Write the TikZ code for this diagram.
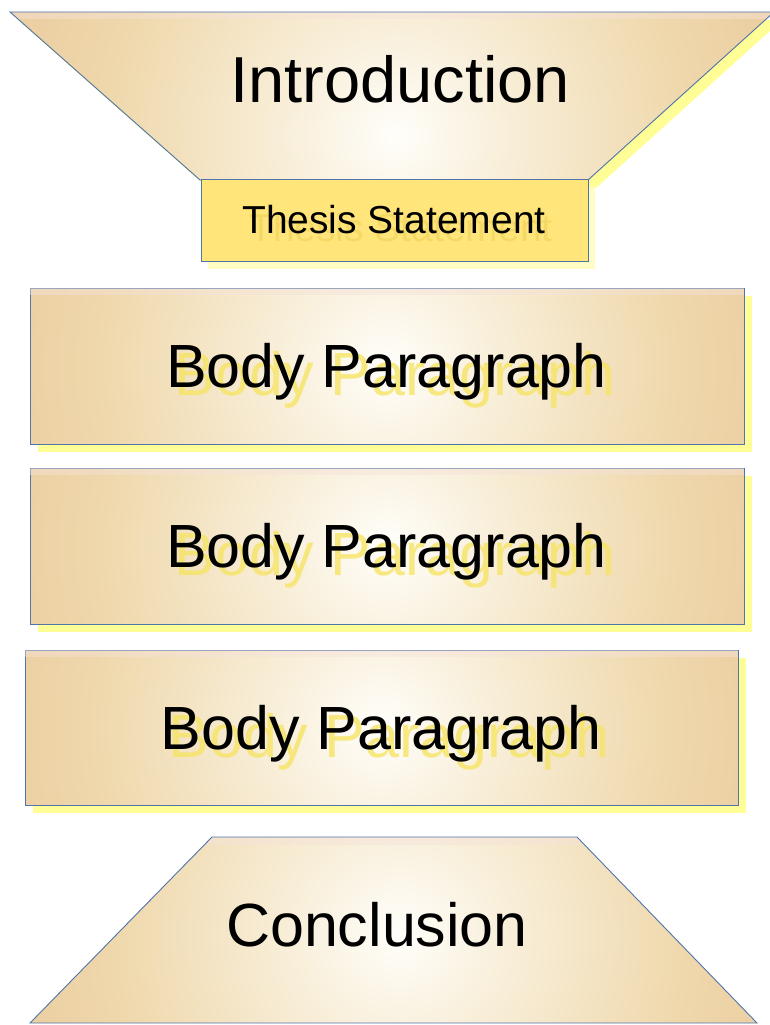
\documentclass[tikz,border=0pt]{standalone}
\usepackage{fontspec}
\setmainfont{Liberation Sans}
\usetikzlibrary{shadows}

\definecolor{edgeblue}{RGB}{79,116,170}
\definecolor{paperwhite}{RGB}{255,254,250}
\definecolor{parchlight}{RGB}{248,238,216}
\definecolor{parchmid}{RGB}{239,216,172}
\definecolor{parchdeep}{RGB}{232,197,151}
\definecolor{parchedge}{RGB}{225,183,137}
\definecolor{parchcorner}{RGB}{221,174,135}
\definecolor{thesisgold}{RGB}{255,229,122}
\definecolor{glow}{RGB}{255,253,150}
\definecolor{paleglow}{RGB}{255,252,196}
\definecolor{ghostyellow}{RGB}{246,228,100}
\definecolor{ghostgold}{RGB}{240,214,92}
\definecolor{gloss}{RGB}{245,226,218}

\pgfdeclareradialshading{parchment}{\pgfpoint{0bp}{0bp}}{%
  color(0bp)=(paperwhite); color(4bp)=(parchlight); color(10bp)=(parchmid);
  color(17bp)=(parchdeep); color(25bp)=(parchedge); color(50bp)=(parchcorner)}

\begin{document}
\begin{tikzpicture}[x=1pt,y=-1pt,
  outline/.style={draw=edgeblue,line width=0.9pt},
  parchment fill/.style={path picture={\shade[shading=parchment] (#1) circle (714pt);}},
  body box/.style={outline,parchment fill=path picture bounding box.center,
    minimum width=714pt,minimum height=156pt,inner sep=0pt,
    drop shadow={shadow xshift=8pt,shadow yshift=-8pt,fill=glow,opacity=1}},
  big text/.style={font=\fontsize{61pt}{70pt}\selectfont,anchor=base,inner sep=0pt},
  ghost/.style={text=ghostyellow,text opacity=.8}]

  \useasboundingbox (0,0) rectangle (770,1025);

  % introduction funnel
  \coordinate (i1) at (10,12);
  \coordinate (i2) at (774,12);
  \coordinate (i3) at (588,180);
  \coordinate (i4) at (200,180);
  \coordinate (ic) at (396,135);
  \fill[glow] ([shift={(8,8)}]i1) -- ([shift={(8,8)}]i2) -- ([shift={(8,8)}]i3) -- ([shift={(8,8)}]i4) -- cycle;
  \path[parchment fill=ic] (i1) -- (i2) -- (i3) -- (i4) -- cycle;
  \begin{scope}
    \clip (i1) -- (i2) -- (i3) -- (i4) -- cycle;
    \fill[gloss,opacity=.45] (0,12) rectangle (780,19);
  \end{scope}
  \draw[outline] (i1) -- (i2) -- (i3) -- (i4) -- cycle;
  \node[big text,font=\fontsize{65pt}{74pt}\selectfont] (intro) at (400,102) {Introduction};

  % thesis
  \node[outline,fill=thesisgold,minimum width=387pt,minimum height=82pt,inner sep=0pt,
    drop shadow={shadow xshift=7pt,shadow yshift=-8pt,fill=paleglow,opacity=1}] (thesis) at (394.5,220) {};
  \node[big text,text=ghostgold,text opacity=.7,font=\fontsize{39pt}{46pt}\selectfont] (thesis ghost) at (401,241) {Thesis Statement};
  \node[big text,font=\fontsize{39pt}{46pt}\selectfont] (thesis text) at (394,233) {Thesis Statement};

  % body paragraphs
  \node[body box] (body1) at (387,366) {};
  \node[body box] (body2) at (387,546) {};
  \node[body box,minimum width=713pt,minimum height=155pt] (body3) at (381.5,727.5) {};

  \fill[gloss,opacity=.45] ([shift={(0.5,0.5)}]body1.north west) rectangle ([shift={(-0.5,7)}]body1.north east);
  \fill[gloss,opacity=.45] ([shift={(0.5,0.5)}]body2.north west) rectangle ([shift={(-0.5,7)}]body2.north east);
  \fill[gloss,opacity=.45] ([shift={(0.5,0.5)}]body3.north west) rectangle ([shift={(-0.5,7)}]body3.north east);

  \node[big text,ghost] (ghost1) at (395,395) {Body Paragraph};
  \node[big text] (para1) at (386.5,387) {Body Paragraph};
  \node[big text,ghost] (ghost2) at (395,575) {Body Paragraph};
  \node[big text] (para2) at (386.5,567) {Body Paragraph};
  \node[big text,ghost] (ghost3) at (389,757) {Body Paragraph};
  \node[big text] (para3) at (381,749) {Body Paragraph};

  % conclusion funnel
  \coordinate (c1) at (212,837);
  \coordinate (c2) at (577,837);
  \coordinate (c3) at (757,1023);
  \coordinate (c4) at (30,1023);
  \coordinate (cc) at (400,935);
  \path[parchment fill=cc] (c1) -- (c2) -- (c3) -- (c4) -- cycle;
  \begin{scope}
    \clip (c1) -- (c2) -- (c3) -- (c4) -- cycle;
    \fill[gloss,opacity=.45] (0,837) rectangle (780,845);
  \end{scope}
  \draw[outline] (c1) -- (c2) -- (c3) -- (c4) -- cycle;
  \node[big text] (concl) at (377,946) {Conclusion};
\end{tikzpicture}
\end{document}
